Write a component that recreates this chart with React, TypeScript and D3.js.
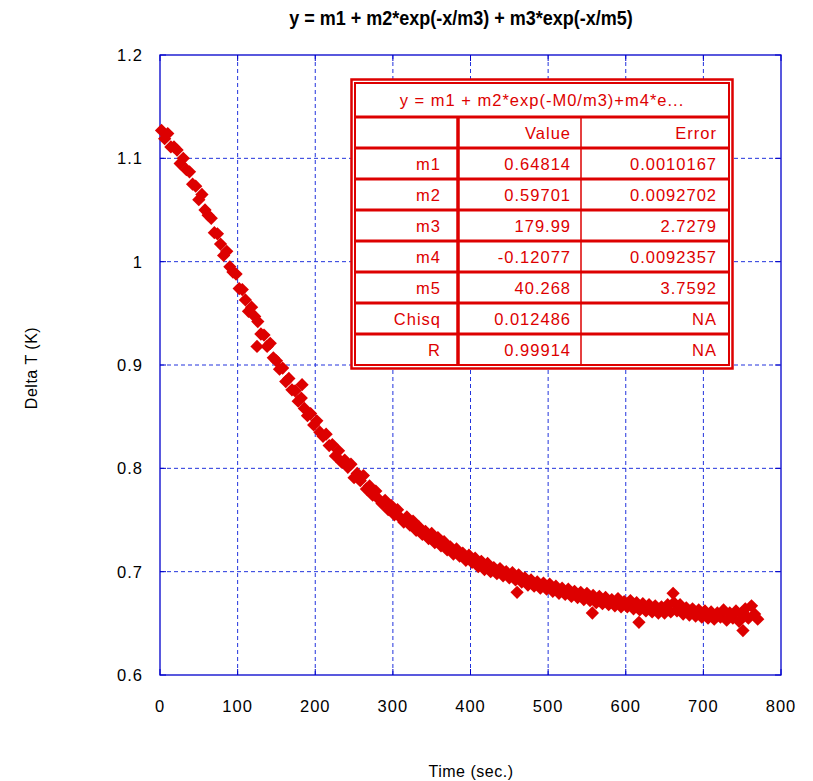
import * as d3 from 'd3'
import * as React from 'react'

const points: [number, number][] = [
  [2, 1.127], [6, 1.119], [10, 1.124], [14, 1.111], [18, 1.111], [22, 1.108], [26, 1.095], [30, 1.100],
  [34, 1.089], [38, 1.087], [42, 1.075], [46, 1.073], [50, 1.060], [54, 1.065], [58, 1.050], [62, 1.045],
  [66, 1.042], [70, 1.028], [74, 1.027], [78, 1.017], [82, 1.006], [86, 1.010], [90, 0.995], [94, 0.990],
  [98, 0.988], [102, 0.974], [106, 0.973], [110, 0.963], [114, 0.952], [118, 0.956], [122, 0.947], [125, 0.918],
  [126, 0.942], [130, 0.930], [134, 0.929], [138, 0.918], [142, 0.921], [146, 0.907], [150, 0.904], [154, 0.896],
  [158, 0.897], [162, 0.884], [166, 0.887], [170, 0.876], [174, 0.875], [178, 0.865], [182, 0.868], [183, 0.881],
  [186, 0.858], [190, 0.851], [194, 0.853], [198, 0.842], [202, 0.846], [206, 0.835], [210, 0.831], [214, 0.833],
  [218, 0.822], [222, 0.823], [226, 0.812], [230, 0.817], [234, 0.806], [238, 0.808], [242, 0.801], [246, 0.804],
  [250, 0.791], [254, 0.795], [258, 0.788], [262, 0.793], [266, 0.780], [270, 0.783], [274, 0.774], [278, 0.778],
  [282, 0.770], [286, 0.766], [290, 0.769], [294, 0.760], [298, 0.764], [302, 0.755], [306, 0.760], [310, 0.752],
  [314, 0.748], [318, 0.753], [322, 0.745], [326, 0.749], [330, 0.740], [334, 0.743], [338, 0.736], [342, 0.739],
  [346, 0.732], [350, 0.737], [354, 0.728], [358, 0.733], [362, 0.725], [366, 0.729], [370, 0.721], [374, 0.724],
  [378, 0.717], [382, 0.722], [386, 0.715], [390, 0.718], [394, 0.711], [398, 0.716], [402, 0.709], [406, 0.713],
  [410, 0.705], [414, 0.710], [418, 0.702], [422, 0.708], [426, 0.700], [430, 0.704], [434, 0.698], [438, 0.703],
  [442, 0.696], [446, 0.700], [450, 0.694], [454, 0.699], [458, 0.692], [460, 0.680], [462, 0.697], [466, 0.690],
  [470, 0.694], [474, 0.687], [478, 0.692], [482, 0.686], [486, 0.690], [490, 0.684], [494, 0.689], [498, 0.683],
  [502, 0.688], [506, 0.681], [510, 0.686], [514, 0.679], [518, 0.684], [522, 0.678], [526, 0.683], [530, 0.676],
  [534, 0.681], [538, 0.675], [542, 0.680], [546, 0.673], [550, 0.679], [554, 0.672], [557, 0.660], [558, 0.677],
  [562, 0.670], [566, 0.676], [570, 0.669], [574, 0.675], [578, 0.668], [582, 0.673], [586, 0.667], [590, 0.674],
  [594, 0.666], [598, 0.671], [602, 0.666], [606, 0.672], [610, 0.664], [614, 0.670], [617, 0.651], [618, 0.663],
  [622, 0.669], [626, 0.662], [630, 0.668], [634, 0.661], [638, 0.667], [642, 0.660], [646, 0.666], [650, 0.660],
  [654, 0.668], [658, 0.661], [661, 0.679], [662, 0.670], [666, 0.662], [670, 0.668], [674, 0.659], [678, 0.665],
  [682, 0.658], [686, 0.664], [690, 0.657], [694, 0.663], [698, 0.656], [702, 0.662], [706, 0.655], [710, 0.661],
  [714, 0.654], [718, 0.660], [722, 0.656], [726, 0.663], [730, 0.653], [734, 0.660], [738, 0.655], [742, 0.662],
  [746, 0.652], [750, 0.658], [751, 0.643], [754, 0.664], [758, 0.655], [762, 0.667], [766, 0.659], [770, 0.654],
]

const xTicks = [0, 100, 200, 300, 400, 500, 600, 700, 800]
const yTicks = [0.6, 0.7, 0.8, 0.9, 1, 1.1, 1.2]

// Fit results box
const fitLabel = 'y = m1 + m2*exp(-M0/m3)+m4*e...'
const tableHeader = ['', 'Value', 'Error']
const paramNames = ['m1', 'm2', 'm3', 'm4', 'm5', 'Chisq', 'R']
const paramValues = ['0.64814', '0.59701', '179.99', '-0.12077', '40.268', '0.012486', '0.99914']
const paramErrors = ['0.0010167', '0.0092702', '2.7279', '0.0092357', '3.7592', 'NA', 'NA']

const FONT = '"Liberation Sans", Arial, Helvetica, sans-serif'
const RED = '#dd0000'
const BLUE = '#0000cc'

export default function App() {
  const ref = React.useRef<SVGSVGElement>(null)

  React.useEffect(() => {
    const svg = d3.select(ref.current!)
    svg.selectAll('*').remove()

    const left = 160, right = 781, top = 55, bottom = 675
    const x = d3.scaleLinear().domain([0, 800]).range([left, right])
    const y = d3.scaleLinear().domain([0.6, 1.2]).range([bottom, top])

    // Title
    svg.append('text')
      .attr('x', 461).attr('y', 25)
      .attr('text-anchor', 'middle')
      .attr('font-family', FONT).attr('font-size', 18).attr('font-weight', 'bold')
      .attr('transform', 'translate(0,-2) scale(1,1.08)')
      .text('y = m1 + m2*exp(-x/m3) + m3*exp(-x/m5)')

    // Dashed grid
    const grid = svg.append('g').attr('stroke', '#2233dd').attr('stroke-width', 1).attr('stroke-dasharray', '4,3')
    grid.selectAll('line.v')
      .data(xTicks.slice(1, -1))
      .enter().append('line')
      .attr('class', 'v')
      .attr('x1', d => x(d)).attr('x2', d => x(d))
      .attr('y1', top).attr('y2', bottom)
    grid.selectAll('line.h')
      .data(yTicks.slice(1, -1))
      .enter().append('line')
      .attr('class', 'h')
      .attr('x1', left).attr('x2', right)
      .attr('y1', d => y(d)).attr('y2', d => y(d))

    // Inward tick marks on all four sides
    const ticks = svg.append('g').attr('stroke', BLUE).attr('stroke-width', 1)
    xTicks.forEach(d => {
      ticks.append('line').attr('x1', x(d)).attr('x2', x(d)).attr('y1', bottom).attr('y2', bottom - 6)
      ticks.append('line').attr('x1', x(d)).attr('x2', x(d)).attr('y1', top).attr('y2', top + 6)
    })
    yTicks.forEach(d => {
      ticks.append('line').attr('x1', left).attr('x2', left + 6).attr('y1', y(d)).attr('y2', y(d))
      ticks.append('line').attr('x1', right).attr('x2', right - 6).attr('y1', y(d)).attr('y2', y(d))
    })

    // Frame
    svg.append('rect')
      .attr('x', left).attr('y', top)
      .attr('width', right - left).attr('height', bottom - top)
      .attr('fill', 'none').attr('stroke', BLUE).attr('stroke-width', 1.3)

    // Tick labels
    svg.append('g').selectAll('text')
      .data(xTicks).enter().append('text')
      .attr('x', d => x(d)).attr('y', 712)
      .attr('text-anchor', 'middle')
      .attr('font-family', FONT).attr('font-size', 16.5).attr('letter-spacing', 1)
      .text(d => String(d))
    svg.append('g').selectAll('text')
      .data(yTicks).enter().append('text')
      .attr('x', 143).attr('y', d => y(d) + 6)
      .attr('text-anchor', 'end')
      .attr('font-family', FONT).attr('font-size', 16.5).attr('letter-spacing', 1)
      .text(d => d3.format('')(d))

    // Axis titles
    svg.append('text')
      .attr('x', 471).attr('y', 777)
      .attr('text-anchor', 'middle')
      .attr('font-family', FONT).attr('font-size', 16).attr('letter-spacing', 0.5)
      .text('Time (sec.)')
    svg.append('text')
      .attr('transform', 'translate(37,368) rotate(-90)')
      .attr('text-anchor', 'middle')
      .attr('font-family', FONT).attr('font-size', 16).attr('letter-spacing', 0.5)
      .text('Delta T (K)')

    // Data markers: filled diamonds
    const diamond = d3.symbol().type(d3.symbolSquare).size(88)
    svg.append('g').attr('fill', RED)
      .selectAll('path')
      .data(points).enter().append('path')
      .attr('d', diamond)
      .attr('transform', d => 'translate(' + x(d[0]) + ',' + y(d[1]) + ') rotate(45)')

    // Fit results table
    const tx0 = 355, tx1 = 729, ty0 = 83, ty1 = 365
    const colX = [tx0, 458, 581, tx1]
    const rowY = [ty0, 117, 148, 179, 210, 241, 272, 303, 334, ty1]
    const table = svg.append('g')
    table.append('rect')
      .attr('x', tx0 - 3.5).attr('y', ty0 - 3.5)
      .attr('width', tx1 - tx0 + 7).attr('height', ty1 - ty0 + 7)
      .attr('fill', 'white').attr('stroke', RED).attr('stroke-width', 2.5)
    table.append('rect')
      .attr('x', tx0).attr('y', ty0)
      .attr('width', tx1 - tx0).attr('height', ty1 - ty0)
      .attr('fill', 'none').attr('stroke', RED).attr('stroke-width', 2)
    table.selectAll('line.row')
      .data(rowY.slice(1, -1)).enter().append('line')
      .attr('class', 'row')
      .attr('x1', tx0).attr('x2', tx1)
      .attr('y1', d => d).attr('y2', d => d)
      .attr('stroke', RED).attr('stroke-width', 3)
    table.append('line')
      .attr('x1', colX[1]).attr('x2', colX[1]).attr('y1', rowY[1]).attr('y2', ty1)
      .attr('stroke', RED).attr('stroke-width', 3.5)
    table.append('line')
      .attr('x1', colX[2]).attr('x2', colX[2]).attr('y1', rowY[1]).attr('y2', ty1)
      .attr('stroke', RED).attr('stroke-width', 1.5)

    const cellText = (s: string, xr: number, yc: number, anchor = 'end') =>
      table.append('text')
        .attr('x', xr).attr('y', yc + 6)
        .attr('text-anchor', anchor)
        .attr('fill', RED)
        .attr('font-family', FONT).attr('font-size', 16.5).attr('letter-spacing', 1)
        .text(s)

    cellText(fitLabel, (tx0 + tx1) / 2, (rowY[0] + rowY[1]) / 2, 'middle')
    const rightEdges = [441, 571, 717]
    tableHeader.forEach((h, i) => cellText(h, rightEdges[i], (rowY[1] + rowY[2]) / 2))
    paramNames.forEach((n, r) => {
      const yc = (rowY[r + 2] + rowY[r + 3]) / 2
      cellText(n, rightEdges[0], yc)
      cellText(paramValues[r], rightEdges[1], yc)
      cellText(paramErrors[r], rightEdges[2], yc)
    })
  }, [])

  return (
    <svg ref={ref} width={813} height={781}
      style={{ position: 'absolute', left: 0, top: 0, background: 'white' }} />
  )
}
